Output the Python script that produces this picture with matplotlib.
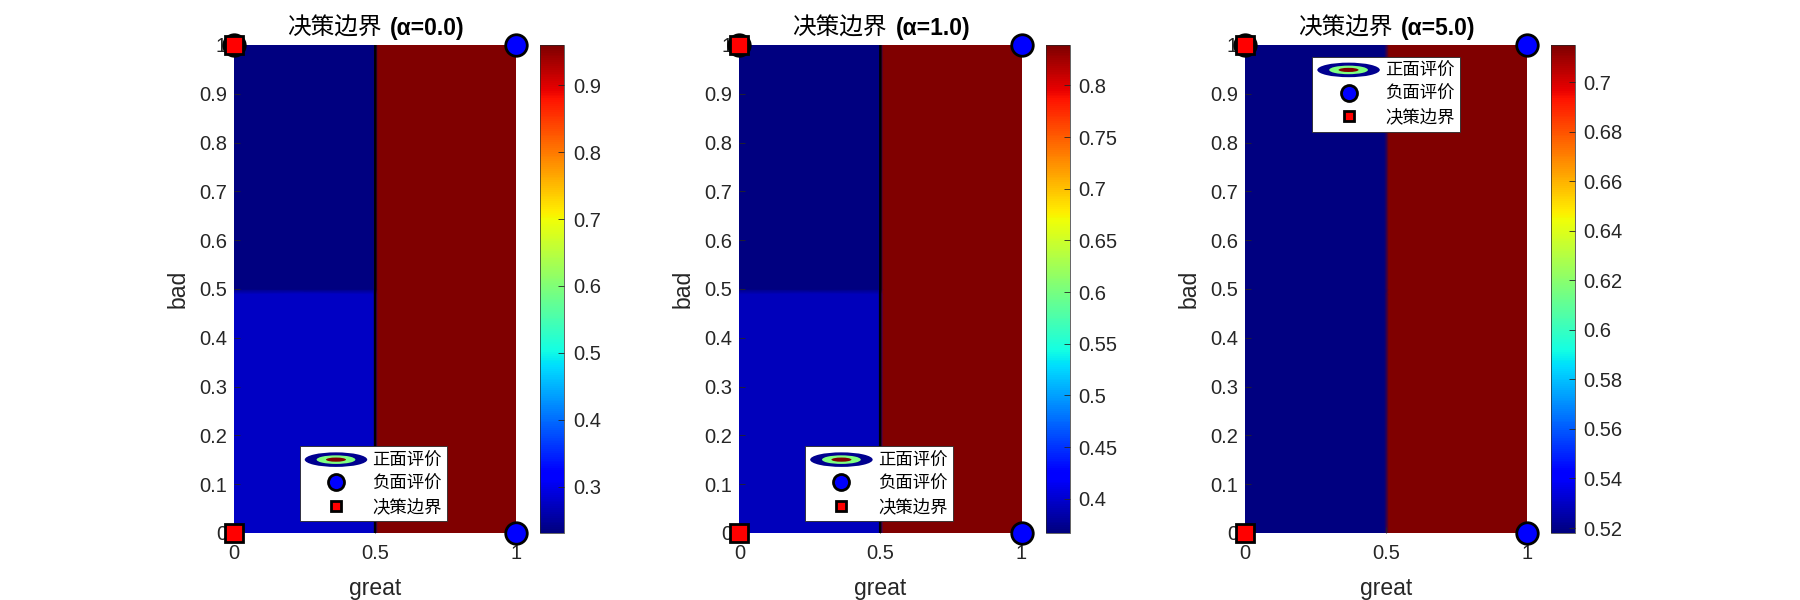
import matplotlib
matplotlib.use("Agg")
import matplotlib.pyplot as plt
from matplotlib.patches import Ellipse
from matplotlib.lines import Line2D
from matplotlib.ticker import MultipleLocator, FormatStrFormatter
import numpy as np

plt.rcParams["font.family"] = ["Liberation Sans", "Noto Sans CJK SC"]

# grid nodes (great on x, bad on y) and model output at each node
great_nodes = [0.0, 0.495, 0.511, 1.0]
bad_nodes = [0.0, 0.49, 0.50, 1.0]
alphas = [0.0, 1.0, 5.0]
prob_a0 = [[0.275, 0.275, 0.960, 0.960],
           [0.275, 0.275, 0.960, 0.960],
           [0.231, 0.231, 0.960, 0.960],
           [0.231, 0.231, 0.960, 0.960]]
prob_a1 = [[0.392, 0.392, 0.839, 0.839],
           [0.392, 0.392, 0.839, 0.839],
           [0.367, 0.367, 0.839, 0.839],
           [0.367, 0.367, 0.839, 0.839]]
prob_a5 = [[0.518, 0.518, 0.715, 0.715],
           [0.518, 0.518, 0.715, 0.715],
           [0.518, 0.518, 0.715, 0.715],
           [0.518, 0.518, 0.715, 0.715]]
cbar_steps = [0.1, 0.05, 0.02]

# training points
circle_great = [0, 1, 1]
circle_bad = [1, 1, 0]
square_great = [0, 0]
square_bad = [1, 0]

legend_labels = ["正面评价", "负面评价", "决策边界"]
INK = "#262626"


class ContourHandler:
    def legend_artist(self, legend, orig_handle, fontsize, handlebox):
        w, h = handlebox.width, handlebox.height
        cx, cy = w / 2 - handlebox.xdescent, h / 2 - handlebox.ydescent
        tr = handlebox.get_transform()
        outer = Ellipse((cx, cy), w, h * 1.05, facecolor="#00008f", edgecolor="none", transform=tr)
        mid = Ellipse((cx, cy), w * 0.62, h * 0.62, facecolor="#80ff80", edgecolor="none", transform=tr)
        inner = Ellipse((cx, cy), w * 0.32, h * 0.3, facecolor="#800000", edgecolor="none", transform=tr)
        for p in (outer, mid, inner):
            handlebox.add_artist(p)
        return outer


class ContourProxy:
    pass


fig = plt.figure(figsize=(18, 6), dpi=100)
lefts = [0.1300, 0.4108, 0.6916]
probs = [prob_a0, prob_a1, prob_a5]

G, B = np.meshgrid(great_nodes, bad_nodes)

for k in range(3):
    ax = fig.add_axes([lefts[k], 0.1117, 0.1567, 0.8133])
    cax = fig.add_axes([lefts[k] + 0.1701, 0.1117, 0.0135, 0.8133])
    Z = np.array(probs[k])

    mesh = ax.pcolormesh(G, B, Z, cmap="jet", shading="gouraud",
                         vmin=Z.min(), vmax=Z.max(), zorder=1)
    if Z.min() < 0.5 < Z.max():
        ax.contour(G, B, Z, levels=[0.5], colors="k", linewidths=1.8, zorder=2)

    ax.plot(circle_great, circle_bad, "o", ms=15.5, mfc="#0000ff", mec="k",
            mew=2, clip_on=False, zorder=5)
    ax.plot(square_great, square_bad, "s", ms=12.5, mfc="#ff0000", mec="k",
            mew=2, clip_on=False, zorder=6)

    ax.set_xlim(0, 1)
    ax.set_ylim(0, 1)
    ax.set_xticks([0, 0.5, 1])
    ax.set_yticks(np.arange(0, 1.01, 0.1))
    ax.xaxis.set_major_formatter(FormatStrFormatter("%g"))
    ax.yaxis.set_major_formatter(FormatStrFormatter("%g"))
    ax.tick_params(direction="in", length=4, width=0.6, colors=INK,
                   labelsize=14.5, labelcolor=INK, pad=5)
    ax.tick_params(axis="x", pad=8)
    for s in ax.spines.values():
        s.set_visible(False)
    ax.set_xlabel("great", fontsize=16.5, color=INK, labelpad=10)
    ax.set_ylabel("bad", fontsize=16.5, color=INK, labelpad=7)

    ty = 1.0 + 10 / 488
    ax.text(0.523, ty, "决策边界", transform=ax.transAxes, ha="right",
            va="baseline", fontsize=17, family="Noto Sans CJK SC", color="k")
    ax.text(0.553, ty, f"(α={alphas[k]:.1f})", transform=ax.transAxes, ha="left",
            va="baseline", fontsize=16.5, fontweight="bold", color="k")

    cb = fig.colorbar(mesh, cax=cax)
    cb.locator = MultipleLocator(cbar_steps[k])
    cb.formatter = FormatStrFormatter("%g")
    cb.update_ticks()
    cax.tick_params(direction="in", length=4, width=0.6, colors=INK,
                    labelsize=14.5, labelcolor=INK, pad=6)
    cb.outline.set_linewidth(0.5)
    cb.outline.set_edgecolor(INK)

    handles = [ContourProxy(),
               Line2D([], [], ls="none", marker="o", ms=11.5, mfc="#0000ff", mec="k", mew=2),
               Line2D([], [], ls="none", marker="s", ms=7, mfc="#ff0000", mec="k", mew=2)]
    if k < 2:
        loc, anchor = "lower center", (0.494, 0.024)
    else:
        loc, anchor = "upper center", (0.5, 0.976)
    leg = ax.legend(handles, legend_labels, loc=loc, bbox_to_anchor=anchor,
                    borderaxespad=0,
                    handler_map={ContourProxy: ContourHandler()},
                    prop={"family": "Noto Sans CJK SC", "size": 12.5},
                    handlelength=3.6, handleheight=0.85, labelspacing=0.3,
                    handletextpad=0.3, borderpad=0.3, fancybox=False,
                    framealpha=1, edgecolor=INK)
    leg.get_frame().set_linewidth(0.6)
    leg.set_zorder(10)

fig.savefig("out.png", dpi=100, facecolor="white")
